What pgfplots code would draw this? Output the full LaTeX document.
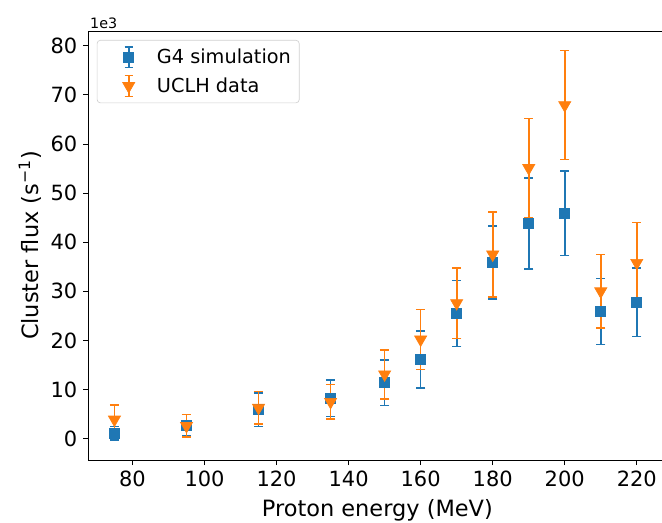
\documentclass[border=0pt]{standalone}
\usepackage{fontspec}
\setmainfont{DejaVu Sans}
\usepackage{pgfplots}
\pgfplotsset{compat=1.18}
\usepackage{pgfplotstable}
\definecolor{tabblue}{HTML}{1F77B4}
\definecolor{taborange}{HTML}{FF7F0E}

% energy, value (1e3 s^-1), symmetric error
\pgfplotstableread{
E G Gerr
75 1.1 1.4
95 2.7 2.2
115 5.9 3.4
135 8.2 3.7
150 11.4 4.65
160 16.1 5.8
170 25.5 6.7
180 35.9 7.4
190 43.8 9.3
200 45.9 8.6
210 25.9 6.7
220 27.8 7.0
}\simdata

\pgfplotstableread{
E U Uerr
75 3.9 2.9
95 2.6 2.3
115 6.3 3.3
135 7.5 3.5
150 13.1 5.0
160 20.2 6.1
170 27.6 7.2
180 37.5 8.6
190 55.1 10.1
200 67.9 11.1
210 30.0 7.5
220 35.8 8.2
}\uclhdata

\begin{document}
\begin{tikzpicture}
\begin{axis}[
    name=ax,
    scale only axis,
    width=345pt, height=258pt,
    xmin=67.7, xmax=227,
    ymin=-4.35, ymax=83.0,
    xtick={80,100,...,220},
    ytick={0,10,...,80},
    xtick pos=bottom, ytick pos=left,
    tick align=outside,
    major tick length=3pt,
    tick style={black, line width=0.5pt},
    axis line style={line width=0.5pt},
    /pgf/number format/assume math mode=true,
    ticklabel style={font=\fontsize{12.6}{15}\selectfont},
    xlabel={Proton energy (MeV)},
    ylabel={Cluster flux (s\textsuperscript{−1})},
    every axis x label/.style={at={(axis description cs:0.504,-0.118)}, anchor=center,
        font=\fontsize{13.5}{16}\selectfont},
    every axis y label/.style={at={(axis description cs:-0.101,0.5)}, anchor=center, rotate=90,
        font=\fontsize{13.5}{16}\selectfont},
    legend cell align=left,
    legend style={at={(0.015,0.979)}, anchor=north west, draw=black!18,
        rounded corners=2pt, fill=white, font=\fontsize{11.6}{14}\selectfont,
        row sep=3pt, inner sep=3pt},
    legend image code/.code={
        \path[draw=none, fill=none] (0pt,0pt) -- (31pt,0pt);
        \draw[line width=1pt] (16pt,-6.3pt) -- (16pt,6.3pt);
        \draw[line width=1pt] (13.6pt,-6.3pt) -- (18.4pt,-6.3pt)
            (13.6pt,6.3pt) -- (18.4pt,6.3pt);
        \draw plot coordinates {(16pt,0pt)};
    },
]
\addplot[only marks, tabblue, mark=square*, mark size=3pt,
    error bars/.cd, y dir=both, y explicit,
    error bar style={line width=1pt},
    error mark options={rotate=90, line width=1pt, mark size=2.8pt}]
    table[x=E, y=G, y error=Gerr] {\simdata};
\addplot[only marks, taborange, mark=triangle*, mark size=4.2pt,
    mark options={rotate=180},
    error bars/.cd, y dir=both, y explicit,
    error bar style={line width=1pt},
    error mark options={rotate=90, line width=1pt, mark size=2.8pt}]
    table[x=E, y=U, y error=Uerr] {\uclhdata};
\legend{G4 simulation, UCLH data}
\end{axis}
\node[anchor=south west, font=\fontsize{8.6}{10}\selectfont, inner sep=1pt]
    at (ax.north west) {1e3};
\pgfresetboundingbox
\path ([xshift=-53pt, yshift=-37.4pt]ax.south west) rectangle ([yshift=18.6pt]ax.north east);
\end{tikzpicture}
\end{document}
